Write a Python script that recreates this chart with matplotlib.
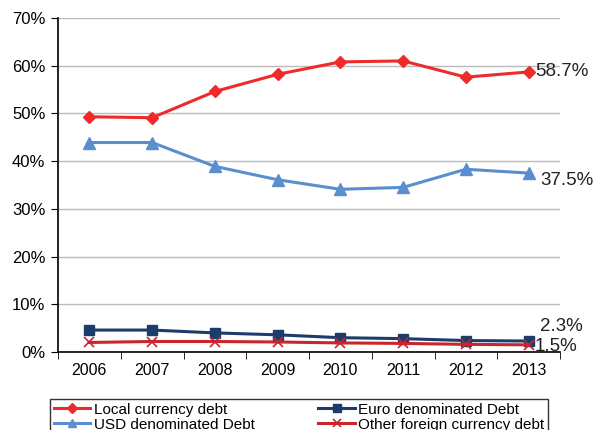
import matplotlib.pyplot as plt

plt.rcParams["font.family"] = ["Liberation Sans", "DejaVu Sans"]

years = ["2006", "2007", "2008", "2009", "2010", "2011", "2012", "2013"]
local_debt = [49.3, 49.1, 54.6, 58.2, 60.8, 61.0, 57.6, 58.7]
usd_debt = [43.9, 43.9, 38.9, 36.1, 34.1, 34.5, 38.3, 37.5]
euro_debt = [4.6, 4.6, 4.0, 3.6, 3.0, 2.8, 2.4, 2.3]
other_debt = [2.0, 2.2, 2.2, 2.1, 1.9, 1.8, 1.6, 1.5]

fig = plt.figure(figsize=(5.95, 4.3), dpi=100)
ax = fig.add_axes([58 / 595, 1 - 352 / 430, 502 / 595, 334 / 430])

x = list(range(len(years)))
ax.plot(x, local_debt, color="#EE2B2B", lw=2.2, marker="D", ms=6,
        label="Local currency debt")
ax.plot(x, usd_debt, color="#5A8ED0", lw=2.2, marker="^", ms=8,
        label="USD denominated Debt")
ax.plot(x, euro_debt, color="#1C3C6C", lw=2.2, marker="s", ms=7.5,
        label="Euro denominated Debt")
ax.plot(x, other_debt, color="#C8262C", lw=2.2, marker="x", ms=7, mew=1.2,
        label="Other foreign currency debt")

# end labels
ax.text(x[-1] + 0.1, local_debt[-1], f"{local_debt[-1]}%", fontsize=13.5,
        va="center", ha="left", color="#222222")
ax.text(x[-1] + 0.18, usd_debt[-1] - 1.6, f"{usd_debt[-1]}%", fontsize=13.5,
        va="center", ha="left", color="#222222")
ax.text(x[-1] + 0.18, euro_debt[-1] + 3.1, f"{euro_debt[-1]}%", fontsize=13.5,
        va="center", ha="left", color="#222222")
ax.text(x[-1] + 0.1, other_debt[-1] - 0.4, f"{other_debt[-1]}%", fontsize=13.5,
        va="center", ha="left", color="#222222")

ax.set_xlim(-0.48, len(years) - 0.5)
ax.set_ylim(0, 70)
ax.set_yticks(range(0, 71, 10))
ax.set_yticklabels([f"{v}%" for v in range(0, 71, 10)], fontsize=12)
ax.set_xticks(x)
ax.set_xticklabels(years, fontsize=11.5)
ax.set_xticks([i + 0.5 for i in range(-1, len(years))], minor=True)
ax.tick_params(axis="x", which="major", length=0, pad=8)
ax.tick_params(axis="x", which="minor", length=5, direction="out")
ax.tick_params(axis="y", length=5, direction="out", pad=4)

ax.grid(axis="y", color="#BBBBBB", lw=1)
ax.set_axisbelow(True)
for side in ["top", "right"]:
    ax.spines[side].set_visible(False)
ax.spines["left"].set_linewidth(1.2)
ax.spines["bottom"].set_linewidth(1.2)

handles, labels = ax.get_legend_handles_labels()
leg = fig.legend(handles, labels, ncol=2, loc="upper left",
                 bbox_to_anchor=(50 / 595, 1 - 399 / 430, 498 / 595, 0),
                 mode="expand", fontsize=11, frameon=True, fancybox=False,
                 handlelength=2.4, handletextpad=0.2, labelspacing=0.05,
                 borderpad=0.25, borderaxespad=0, markerscale=0.8)
leg.get_frame().set_edgecolor("black")
leg.get_frame().set_linewidth(1)

fig.savefig("out.png", dpi=100)
